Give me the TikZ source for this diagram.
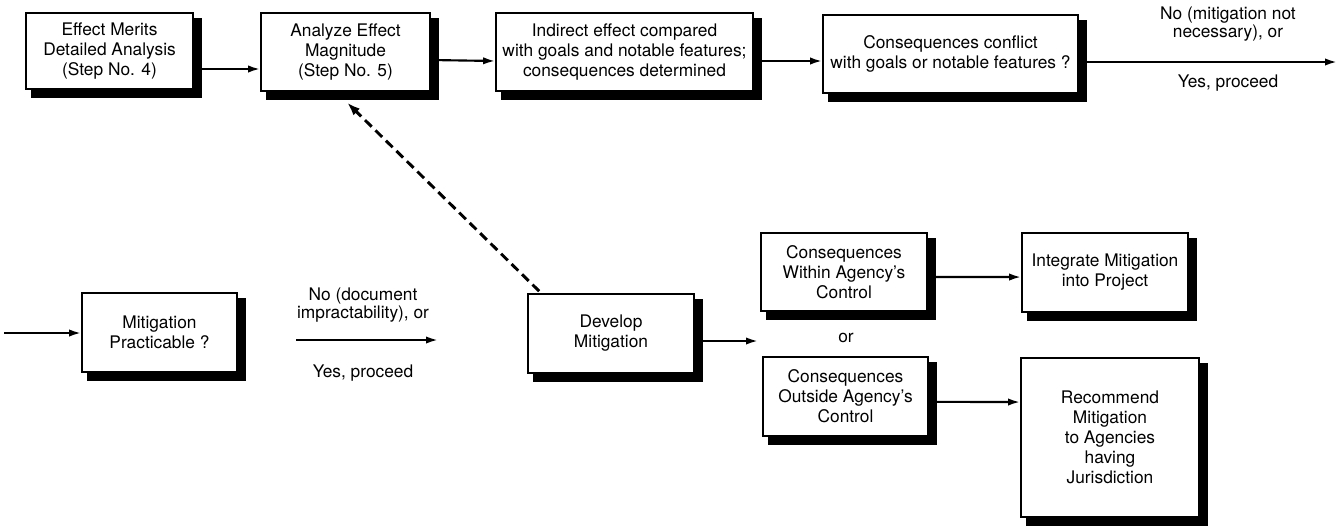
\documentclass[tikz,border=0pt]{standalone}
\usepackage{fontspec}
\setmainfont{TeX Gyre Heros}
\usetikzlibrary{arrows.meta,calc}
\begin{document}
\begin{tikzpicture}[x=0.75pt,y=-0.75pt,
  box/.style={draw,line width=1.3pt,fill=white,align=center,inner sep=0pt,
    font=\fontsize{13}{15}\selectfont},
  shadowline/.style={line width=6pt,line cap=rect,black},
  arr/.style={line width=1.6pt,-{Latex[length=9pt,width=5.5pt]}},
  back/.style={line width=2.2pt,dash pattern=on 7pt off 4pt,-{Latex[length=10pt,width=7pt]}},
  lbl/.style={align=center,inner sep=0pt,font=\fontsize{13}{14}\selectfont}]
\useasboundingbox (0,0) rectangle (1339,526);

% a box with a solid black shadow along its lower and right sides
\newcommand\shbox[6]{%
  \node[box,minimum width=#4,minimum height=#5] (#1) at (#2,#3) {#6};
  \draw[shadowline]
    ($(#1.south west)+(10,4.5)$) -| ($(#1.north east)+(4,10)$);}

% upper row
\shbox{b1}{109.5}{51}{125.25pt}{57pt}{Effect Merits\\Detailed Analysis\\(Step No. 4)}
\shbox{b2}{345.5}{52}{126.75pt}{58.5pt}{Analyze Effect\\Magnitude\\(Step No. 5)}
\shbox{b3}{624.5}{52}{192.75pt}{58.5pt}{Indirect effect compared\\with goals and notable features;\\consequences determined}
\shbox{b4}{950.5}{54}{191.25pt}{58.5pt}{Consequences conflict\\with goals or notable features ?}

% lower row
\shbox{b5}{159.5}{332.5}{116.25pt}{59.25pt}{Mitigation\\Practicable ?}
\shbox{b6}{611}{333.5}{124.5pt}{59.25pt}{Develop\\Mitigation}
\shbox{b7}{844}{272}{124.5pt}{58.5pt}{Consequences\\Within Agency's\\Control}
\shbox{b8}{845.5}{396.5}{123.75pt}{59.25pt}{Consequences\\Outside Agency's\\Control}
\shbox{b9}{1105}{272.5}{124.5pt}{59.25pt}{Integrate Mitigation\\into Project}
\shbox{b10}{1110}{437.5}{133.5pt}{119.25pt}{Recommend\\Mitigation\\to Agencies\\having\\Jurisdiction}

% free ends of connectors
\coordinate (out) at (1337,62);
\coordinate (in) at (4,333);
\coordinate (pa) at (296,340);
\coordinate (pb) at (438,340);
\coordinate (dm) at (758,341);

% connectors of the upper row
\draw[arr] ([yshift=-13.5pt]b1.east) -- ([yshift=-12.75pt]b2.west);
\draw[arr] ([yshift=-6pt]b2.east) -- ([yshift=-6.75pt]b3.west);
\draw[arr] ([yshift=-6.75pt]b3.east) -- ([yshift=-5.25pt]b4.west);
\draw[arr] (b4.east |- out) -- (out);
\node[lbl] (l1) at (1228,24) {No (mitigation not\\necessary), or};
\node[lbl] (l2) at (1228,83) {Yes, proceed};

% connectors of the lower row
\draw[arr] (in) -- (b5.west |- in);
\draw[arr] (pa) -- (pb);
\node[lbl] (l3) at (363,305) {No (document\\impractability), or};
\node[lbl] (l4) at (363,373) {Yes, proceed};
\draw[arr] (b6.east |- dm) -- (dm);
\node[lbl] (l5) at (846,338) {or};
\draw[arr] ([yshift=-3.75pt]b7.east) -- ([yshift=-3.4pt]b9.west);
\draw[arr] ([yshift=-4pt]b8.east) -- ([yshift=26.6pt]b10.west);

% loop back to the magnitude analysis
\draw[back] ([xshift=9pt,yshift=1.5pt]b6.north west) -- ([xshift=1.2pt,yshift=-8pt]b2.south);
\end{tikzpicture}
\end{document}
